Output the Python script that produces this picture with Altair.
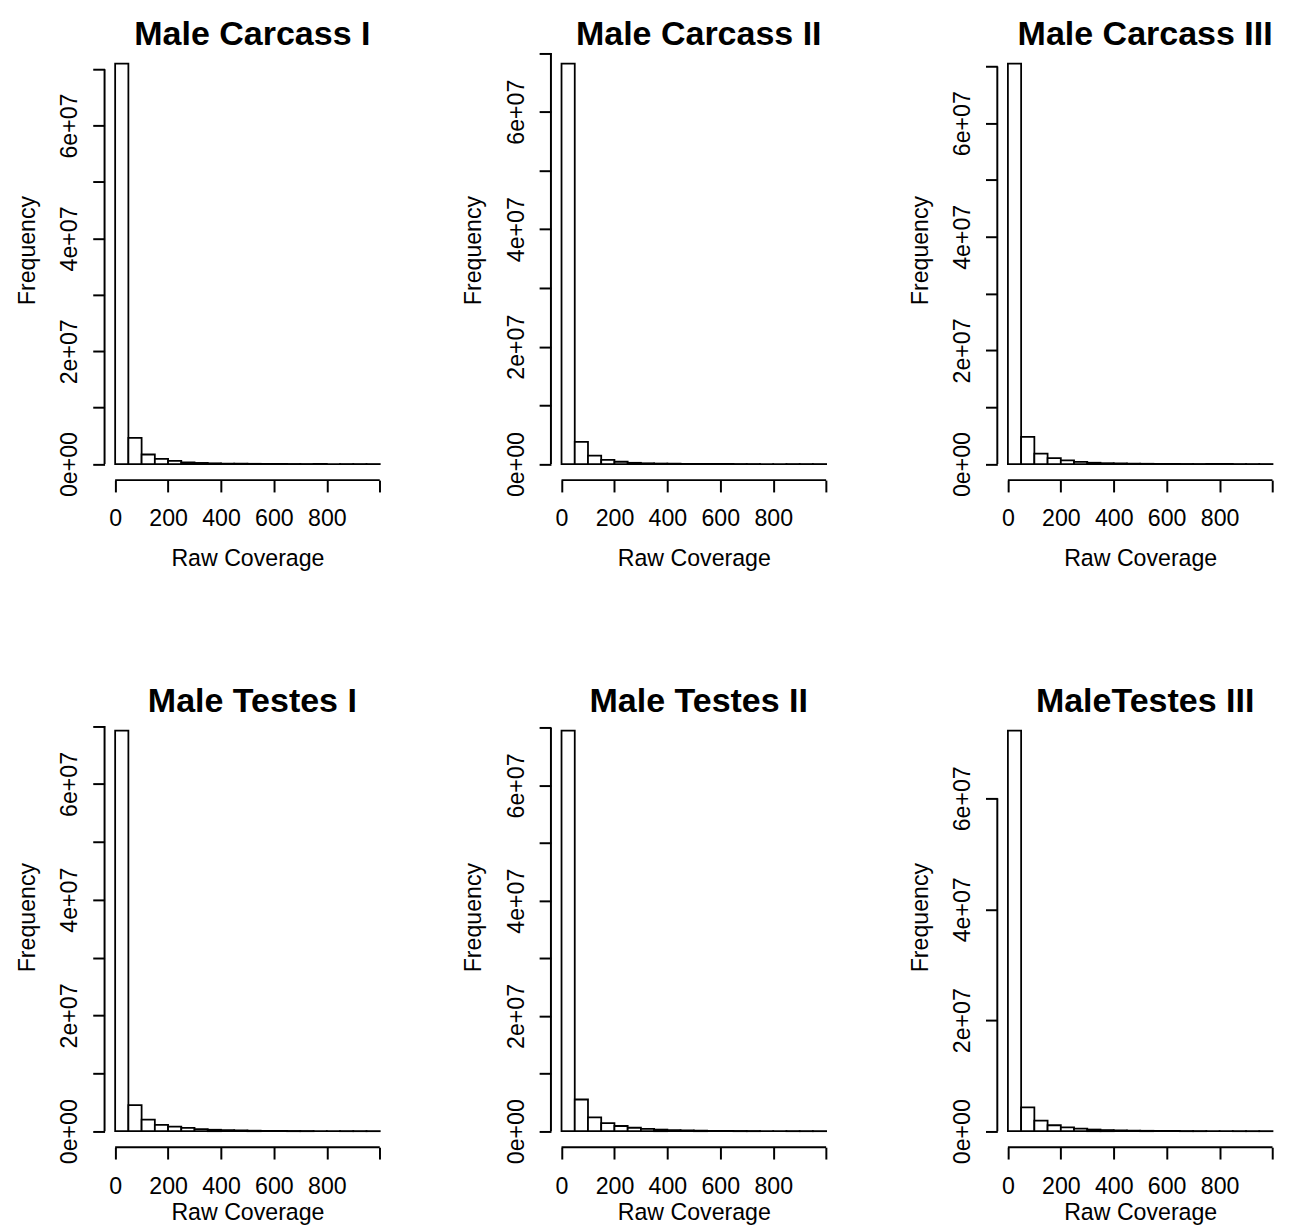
import altair as alt
import pandas as pd

# ---------------- data ----------------
panel_titles = ["Male Carcass I", "Male Carcass II", "Male Carcass III",
                "Male Testes I", "Male Testes II", "MaleTestes III"]

bin_edges = [0, 50, 100, 150, 200, 250, 300, 350, 400, 450, 500,
             550, 600, 650, 700, 750, 800, 850, 900, 950, 1000]

counts_carcass_1 = [7.10e7, 4.66e6, 1.70e6, 9.3e5, 5.8e5, 3.2e5, 2.1e5, 1.4e5, 1.0e5, 7.5e4,
                    5.5e4, 4.2e4, 3.3e4, 2.6e4, 2.1e4, 1.7e4, 1.4e4, 1.2e4, 1.0e4, 8.5e3]
counts_carcass_2 = [6.82e7, 3.8e6, 1.46e6, 7.2e5, 4.0e5, 2.2e5, 1.4e5, 9.5e4, 7.0e4, 5.2e4,
                    4.0e4, 3.1e4, 2.5e4, 2.0e4, 1.6e4, 1.3e4, 1.1e4, 9.0e3, 7.5e3, 6.5e3]
counts_carcass_3 = [7.05e7, 4.8e6, 1.85e6, 1.04e6, 6.4e5, 4.0e5, 2.4e5, 1.6e5, 1.1e5, 8.0e4,
                    6.0e4, 4.6e4, 3.6e4, 2.9e4, 2.3e4, 1.9e4, 1.6e4, 1.3e4, 1.1e4, 9.5e3]
counts_testes_1 = [6.92e7, 4.5e6, 2.0e6, 1.1e6, 8.0e5, 5.6e5, 3.5e5, 2.5e5, 1.7e5, 1.2e5,
                   9.0e4, 7.0e4, 5.5e4, 4.4e4, 3.6e4, 3.0e4, 2.5e4, 2.1e4, 1.8e4, 1.5e4]
counts_testes_2 = [6.95e7, 5.5e6, 2.4e6, 1.4e6, 9.0e5, 6.0e5, 4.0e5, 2.8e5, 2.0e5, 1.4e5,
                   1.0e5, 7.5e4, 5.8e4, 4.6e4, 3.7e4, 3.0e4, 2.5e4, 2.1e4, 1.8e4, 1.5e4]
counts_testes_3 = [7.22e7, 4.3e6, 1.9e6, 1.07e6, 7.0e5, 4.6e5, 3.0e5, 2.0e5, 1.4e5, 1.0e5,
                   7.5e4, 5.7e4, 4.4e4, 3.5e4, 2.8e4, 2.3e4, 1.9e4, 1.6e4, 1.4e4, 1.2e4]

all_counts = [counts_carcass_1, counts_carcass_2, counts_carcass_3,
              counts_testes_1, counts_testes_2, counts_testes_3]

x_ticks = [0, 200, 400, 600, 800, 1000]
y_ticks_fine = [0, 1e7, 2e7, 3e7, 4e7, 5e7, 6e7, 7e7]
y_ticks_coarse = [0, 2e7, 4e7, 6e7]
y_ticks_per_panel = [y_ticks_fine] * 5 + [y_ticks_coarse]

# ---------------- style ----------------
FONT = "Liberation Sans"
W, H = 290, 439
COL_GAP = 163
ROW_GAP = 238
x_title_y = [87, 73]      # per row
x_label_pad = [34, 35]    # per row

y_label_expr = ("datum.value % 20000000 === 0 ? (datum.value === 0 ? '0e+00' : "
                "(datum.value / 10000000) + 'e+07') : ''")
x_label_expr = "datum.value >= 1000 ? '' : datum.label"


def panel(i):
    row = i // 3
    counts = all_counts[i]
    ymax = max(counts)
    yt = y_ticks_per_panel[i]
    df = pd.DataFrame({
        "start": bin_edges[:-1],
        "end": bin_edges[1:],
        "count": counts,
        "zero": [0] * len(counts),
    })
    xscale = alt.Scale(domain=[-40, 1040], nice=False, zero=False)
    yscale = alt.Scale(domain=[-0.04 * ymax, 1.04 * ymax], nice=False, zero=False)

    bars = alt.Chart(df).mark_rect(fill="white", stroke="black", strokeWidth=1.8).encode(
        x=alt.X("start:Q", scale=xscale,
                axis=alt.Axis(values=x_ticks, labelExpr=x_label_expr, title="Raw Coverage",
                              titleY=x_title_y[row], titleBaseline="alphabetic",
                              labelBaseline="alphabetic", labelPadding=x_label_pad[row],
                              labelFlush=False, labelOverlap=False)),
        x2="end:Q",
        y=alt.Y("count:Q", scale=yscale,
                axis=alt.Axis(values=yt, labelExpr=y_label_expr, title="Frequency",
                              labelAngle=270, labelAlign="center", labelBaseline="alphabetic",
                              labelPadding=16, labelFlush=False, labelOverlap=False,
                              titleAngle=270, titleX=-71, titleY=H / 2 - 14,
                              titleAlign="center", titleBaseline="alphabetic")),
        y2="zero:Q",
    )

    yline = alt.Chart(pd.DataFrame({"lo": [yt[0]], "hi": [yt[-1]]})).mark_rule(
        color="black", strokeWidth=2).encode(
        x=alt.value(0), y="lo:Q", y2="hi:Q")
    xline = alt.Chart(pd.DataFrame({"lo": [x_ticks[0]], "hi": [x_ticks[-1]]})).mark_rule(
        color="black", strokeWidth=2).encode(
        y=alt.value(H), x="lo:Q", x2="hi:Q")

    return alt.layer(bars, yline, xline).properties(
        width=W, height=H,
        title=alt.TitleParams(panel_titles[i], font=FONT, fontSize=34.5, fontWeight="bold",
                              color="black", anchor="middle", frame="group",
                              baseline="alphabetic", offset=-32, dx=5),
    )


chart = alt.concat(*[panel(i) for i in range(6)], columns=3,
                   spacing={"row": ROW_GAP, "column": COL_GAP}, bounds="flush").configure_view(
    stroke=None
).configure_axis(
    grid=False, domain=False, ticks=True, tickSize=12, tickWidth=2, tickColor="black",
    labelFont=FONT, labelFontSize=23.5, labelColor="black",
    titleFont=FONT, titleFontSize=23.5, titleColor="black", titleFontWeight="normal",
).properties(padding={"left": 8, "top": 0, "right": 5, "bottom": 5}, background="white")

chart.save("out.html", embed_options={"renderer": "svg", "actions": False})
